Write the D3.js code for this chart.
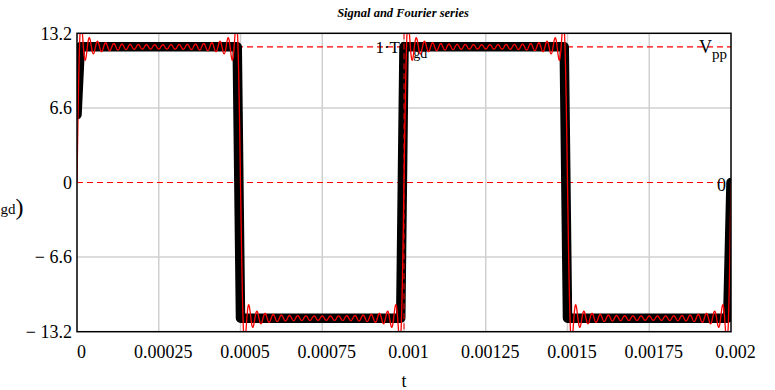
<!DOCTYPE html>
<html>
<head>
<meta charset="utf-8">
<script src="https://cdn.jsdelivr.net/npm/d3@7"></script>
<style>
  html, body { margin: 0; padding: 0; background: #fff; }
  svg { display: block; }
  svg text { font-family: "Liberation Serif", "DejaVu Serif", serif; }
</style>
</head>
<body>
<svg id="chart" width="775" height="390"></svg>
<script>
// Square-wave signal (sampled corners)
const signalT = [0, 0.00001, 0.00049, 0.0005, 0.00099, 0.001, 0.00149, 0.0015, 0.00199, 0.002];
const signalV = [6, 12, 12, -12, -12, 12, 12, -12, -12, 0];

// Fourier series: odd harmonics and their sine amplitudes
const period = 0.001;
const harmonics = [1, 3, 5, 7, 9, 11, 13, 15, 17, 19, 21, 23, 25, 27, 29, 31, 33, 35, 37, 39];
const amplitudes = [15.279, 5.093, 3.056, 2.183, 1.698, 1.389, 1.175, 1.019, 0.899, 0.804,
                    0.728, 0.664, 0.611, 0.566, 0.527, 0.493, 0.463, 0.437, 0.413, 0.392];

// Axis ticks
const xTicks = [0, 0.00025, 0.0005, 0.00075, 0.001, 0.00125, 0.0015, 0.00175, 0.002];
const xTickLabels = ["0", "0.00025", "0.0005", "0.00075", "0.001", "0.00125", "0.0015", "0.00175", "0.002"];
const yTicks = [-13.2, -6.6, 0, 6.6, 13.2];
const yTickLabels = ["\u2212 13.2", "\u2212 6.6", "0", "6.6", "13.2"];

// Markers
const hMarkers = [12, 0];
const vMarkers = [0.001];

const FONT = "Liberation Serif, DejaVu Serif, serif";
const svg = d3.select("#chart").attr("font-family", FONT);
const plot = { left: 77, right: 731, top: 33.3, bottom: 331.7 };

const x = d3.scaleLinear().domain([0, 0.002]).range([plot.left, plot.right]);
const y = d3.scaleLinear().domain([-13.2, 13.2]).range([plot.bottom, plot.top]);

svg.append("defs").append("clipPath").attr("id", "plotClip")
  .append("rect")
  .attr("x", plot.left).attr("y", plot.top)
  .attr("width", plot.right - plot.left).attr("height", plot.bottom - plot.top);

// Title
svg.append("text")
  .attr("x", 403).attr("y", 17)
  .attr("text-anchor", "middle").attr("font-family", FONT)
  .attr("font-size", 12.5).attr("font-weight", "bold").attr("font-style", "italic")
  .text("Signal and Fourier series");

// Grid lines
const grid = svg.append("g");
grid.selectAll("line.vx").data(xTicks.slice(1, -1)).join("line")
  .attr("x1", d => x(d)).attr("x2", d => x(d))
  .attr("y1", plot.top).attr("y2", plot.bottom)
  .attr("stroke", "#d0d0d0").attr("stroke-width", 1.5);
grid.selectAll("line.hy").data(yTicks.filter(v => v !== 0 && Math.abs(v) < 13.2)).join("line")
  .attr("x1", plot.left).attr("x2", plot.right)
  .attr("y1", d => y(d)).attr("y2", d => y(d))
  .attr("stroke", "#d0d0d0").attr("stroke-width", 1.5);

// Horizontal markers
svg.append("g").selectAll("line").data(hMarkers).join("line")
  .attr("x1", plot.left).attr("x2", plot.right)
  .attr("y1", d => y(d)).attr("y2", d => y(d))
  .attr("stroke", "#ff0000").attr("stroke-width", 1.2)
  .attr("stroke-dasharray", "6,4");

// Marker labels
const lbl = svg.append("g").attr("fill", "#000").attr("font-family", FONT);
lbl.append("text").attr("x", 400).attr("y", 53.3)
  .attr("text-anchor", "end").attr("font-size", 17).text("1\u00B7T");
const gdLabel = lbl.append("text").attr("x", 401).attr("y", 53.3).attr("font-size", 17);
gdLabel.append("tspan").text("V");
gdLabel.append("tspan").attr("font-size", 14).attr("dy", 5).text("gd");

const ppLabel = lbl.append("text").attr("x", 727).attr("y", 53)
  .attr("text-anchor", "end").attr("font-size", 18);
ppLabel.append("tspan").text("V");
ppLabel.append("tspan").attr("font-size", 15).attr("dy", 6).text("pp");

lbl.append("text").attr("x", 726).attr("y", 191)
  .attr("text-anchor", "end").attr("font-size", 18).text("0");

// Signal trace
const plotG = svg.append("g").attr("clip-path", "url(#plotClip)");
const signalPts = signalT.map((t, i) => [t, signalV[i]]);
plotG.append("path")
  .datum(signalPts)
  .attr("d", d3.line().x(d => x(d[0])).y(d => y(d[1])))
  .attr("fill", "none").attr("stroke", "#000").attr("stroke-width", 9.5)
  .attr("stroke-linejoin", "round").attr("stroke-linecap", "round");

// Vertical marker
plotG.selectAll("line.vm").data(vMarkers).join("line")
  .attr("x1", d => x(d)).attr("x2", d => x(d))
  .attr("y1", plot.top).attr("y2", plot.bottom)
  .attr("stroke", "#ff0000").attr("stroke-width", 1)
  .attr("stroke-dasharray", "6,4");

// Fourier series synthesis from the listed harmonics
const nSamples = 4000;
const fourierPts = d3.range(nSamples + 1).map(i => {
  const t = 0.002 * i / nSamples;
  let s = 0;
  harmonics.forEach((n, k) => { s += amplitudes[k] * Math.sin(2 * Math.PI * n * t / period); });
  return [t, s];
});
plotG.append("path")
  .datum(fourierPts)
  .attr("d", d3.line().x(d => x(d[0])).y(d => y(d[1])))
  .attr("fill", "none").attr("stroke", "#ff0000").attr("stroke-width", 1.3);

// Frame
svg.append("rect")
  .attr("x", plot.left).attr("y", plot.top)
  .attr("width", plot.right - plot.left).attr("height", plot.bottom - plot.top)
  .attr("fill", "none").attr("stroke", "#000").attr("stroke-width", 1.5);

// Y axis tick labels
svg.append("g").selectAll("text").data(yTicks).join("text")
  .attr("x", 72).attr("y", d => y(d))
  .attr("dy", "0.35em").attr("font-family", FONT)
  .attr("text-anchor", "end").attr("font-size", 18)
  .text((d, i) => yTickLabels[i]);

// X axis tick labels
svg.append("g").selectAll("text").data(xTicks).join("text")
  .attr("x", d => x(d) + 4.5).attr("y", 358).attr("font-family", FONT)
  .attr("text-anchor", "middle").attr("font-size", 18)
  .text((d, i) => xTickLabels[i]);

// Axis titles
svg.append("text").attr("x", 404).attr("y", 387).attr("font-family", FONT)
  .attr("text-anchor", "middle").attr("font-size", 18).text("t");

// Y axis title tail (subscript and closing bracket at the left margin)
const yTitle = svg.append("text").attr("x", 0.5).attr("y", 214).attr("font-family", FONT);
yTitle.append("tspan").attr("font-size", 15).text("gd");
yTitle.append("tspan").attr("font-size", 24).attr("dy", 1).text(")");
</script>
</body>
</html>
